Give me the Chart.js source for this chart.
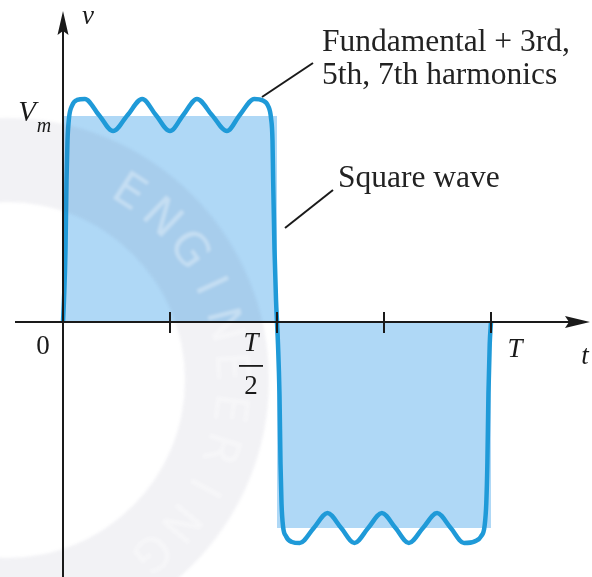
<!DOCTYPE html>
<html lang="en">
<head>
    <meta charset="UTF-8">
    <title>Square wave and its harmonic approximation</title>
    <script src="https://cdn.jsdelivr.net/npm/chart.js@4.4.0/dist/chart.umd.js"></script>
    <style>
        body {
            margin: 0;
            background: #ffffff;
        }
        #waveChart {
            display: block;
        }
    </style>
</head>
<body>
    <canvas id="waveChart" width="592" height="577"></canvas>

    <script>
        // Time in periods (T = 1), voltage in units of Vm
        const squareT = [0, 0, 0.5, 0.5, 1, 1];
        const squareV = [0, 1, 1, -1, -1, 0];

        // Fundamental + 3rd, 5th, 7th harmonics, read point by point
        const harmT = [
            0, 0.0023, 0.0058, 0.0082, 0.0105, 0.014, 0.021, 0.033, 0.051,
            0.084, 0.117, 0.151, 0.185, 0.217, 0.250, 0.281, 0.313, 0.348, 0.383, 0.413, 0.447,
            0.467, 0.479, 0.486, 0.4895, 0.491, 0.4942, 0.4977, 0.5,
            0.5023, 0.5058, 0.5082, 0.5105, 0.514, 0.521, 0.535, 0.553,
            0.586, 0.618, 0.650, 0.681, 0.713, 0.745, 0.777, 0.808, 0.841, 0.874, 0.906, 0.937,
            0.962, 0.977, 0.985, 0.989, 0.9915, 0.994, 0.997, 1
        ];
        const harmV = [
            0, 0.107, 0.35, 0.69, 0.88, 0.99, 1.05, 1.078, 1.083,
            1.005, 0.927, 1.005, 1.083, 1.005, 0.927, 1.005, 1.083, 1.005, 0.927, 1.005, 1.083,
            1.075, 1.05, 0.99, 0.88, 0.69, 0.35, 0.107, 0,
            -0.107, -0.35, -0.69, -0.88, -0.99, -1.04, -1.068, -1.073,
            -1.0, -0.927, -1.0, -1.073, -1.0, -0.927, -1.0, -1.073, -1.0, -0.927, -1.0, -1.073,
            -1.065, -1.04, -0.99, -0.88, -0.69, -0.35, -0.107, 0
        ];

        const tickT = [0.25, 0.5, 0.75, 1];

        const toPoints = (xs, ys) => xs.map((x, i) => ({ x: x, y: ys[i] }));

        const serif = '"Liberation Serif", "DejaVu Serif", serif';

        // faint circular stamp lying over the plot
        function drawStamp(ctx) {
            const cx = 7, cy = 380;
            ctx.save();
            ctx.filter = 'blur(1.5px)';
            ctx.beginPath();
            ctx.arc(cx, cy, 262, 0, Math.PI * 2);
            ctx.arc(cx, cy, 178, 0, Math.PI * 2, true);
            ctx.fillStyle = 'rgba(70, 70, 120, 0.07)';
            ctx.fill();

            const word = 'ENGINEERING';
            ctx.font = '46px "DejaVu Sans", sans-serif';
            ctx.textAlign = 'center';
            ctx.textBaseline = 'middle';
            ctx.fillStyle = 'rgba(255, 255, 255, 0.35)';
            for (let i = 0; i < word.length; i++) {
                const a = (-57 + i * 10.7) * Math.PI / 180;
                ctx.save();
                ctx.translate(cx + 222 * Math.cos(a), cy + 222 * Math.sin(a));
                ctx.rotate(a + Math.PI / 2);
                ctx.fillText(word[i], 0, 0);
                ctx.restore();
            }
            ctx.restore();
        }

        // Axes with arrowheads, tick marks and the hand-lettered labels
        const axesPlugin = {
            id: 'axesPlugin',
            afterDatasetsDraw(chart) {
                const ctx = chart.ctx;
                const xs = chart.scales.x;
                const ys = chart.scales.y;
                const x0 = xs.getPixelForValue(0);
                const y0 = ys.getPixelForValue(0);

                drawStamp(ctx);

                ctx.save();
                ctx.strokeStyle = '#1a1a1a';
                ctx.fillStyle = '#1a1a1a';
                ctx.lineWidth = 2;

                // horizontal axis
                ctx.beginPath();
                ctx.moveTo(15, y0);
                ctx.lineTo(572, y0);
                ctx.stroke();
                ctx.beginPath();
                ctx.moveTo(590, y0);
                ctx.lineTo(565, y0 - 6);
                ctx.lineTo(569, y0);
                ctx.lineTo(565, y0 + 6);
                ctx.closePath();
                ctx.fill();

                // vertical axis
                ctx.beginPath();
                ctx.moveTo(x0, 577);
                ctx.lineTo(x0, 30);
                ctx.stroke();
                ctx.beginPath();
                ctx.moveTo(x0, 11);
                ctx.lineTo(x0 - 5.5, 35);
                ctx.lineTo(x0, 31);
                ctx.lineTo(x0 + 5.5, 35);
                ctx.closePath();
                ctx.fill();

                // ticks
                tickT.forEach(t => {
                    const px = xs.getPixelForValue(t);
                    ctx.beginPath();
                    ctx.moveTo(px, y0 - 10);
                    ctx.lineTo(px, y0 + 11);
                    ctx.stroke();
                });

                // labels
                ctx.textAlign = 'center';
                ctx.textBaseline = 'middle';
                ctx.font = '27px ' + serif;
                ctx.fillText('0', x0 - 20, y0 + 25);

                const xHalf = xs.getPixelForValue(0.5);
                ctx.font = 'italic 27px ' + serif;
                ctx.fillText('T', xHalf - 26, y0 + 22);
                ctx.fillRect(xHalf - 38, y0 + 43, 24, 1.8);
                ctx.font = '27px ' + serif;
                ctx.fillText('2', xHalf - 26, y0 + 65);

                ctx.font = 'italic 27px ' + serif;
                ctx.fillText('T', xs.getPixelForValue(1) + 24, y0 + 28);
                ctx.fillText('t', 585, y0 + 35);
                ctx.fillText('v', x0 + 25, 17);

                const yVm = ys.getPixelForValue(1);
                ctx.font = 'italic 29px ' + serif;
                ctx.fillText('V', 27, yVm - 3);
                ctx.font = 'italic 20px ' + serif;
                ctx.fillText('m', 44, yVm + 11);

                // callouts
                ctx.lineWidth = 2;
                ctx.beginPath();
                ctx.moveTo(262, 97);
                ctx.lineTo(313, 63);
                ctx.stroke();
                ctx.beginPath();
                ctx.moveTo(285, 228);
                ctx.lineTo(333, 190);
                ctx.stroke();

                ctx.fillStyle = '#222222';
                ctx.textAlign = 'left';
                ctx.font = '31.5px ' + serif;
                ctx.fillText('Fundamental + 3rd,', 322, 43);
                ctx.fillText('5th, 7th harmonics', 322, 76);
                ctx.fillText('Square wave', 338, 179);
                ctx.restore();
            }
        };

        const chart = new Chart(document.getElementById('waveChart'), {
            type: 'scatter',
            data: {
                datasets: [
                    {
                        label: 'Fundamental + 3rd, 5th, 7th harmonics',
                        data: toPoints(harmT, harmV),
                        showLine: true,
                        borderColor: '#1f9ad8',
                        borderWidth: 4.5,
                        pointRadius: 0,
                        cubicInterpolationMode: 'monotone',
                        fill: false,
                        order: 0
                    },
                    {
                        label: 'Square wave',
                        data: toPoints(squareT, squareV),
                        showLine: true,
                        borderWidth: 0,
                        borderColor: 'rgba(0,0,0,0)',
                        backgroundColor: '#afd8f6',
                        pointRadius: 0,
                        tension: 0,
                        fill: 'origin',
                        order: 1
                    }
                ]
            },
            options: {
                responsive: false,
                animation: false,
                layout: { padding: 0 },
                plugins: {
                    legend: { display: false },
                    tooltip: { enabled: false }
                },
                scales: {
                    x: {
                        type: 'linear',
                        display: false,
                        min: -63 / 428,
                        max: (592 - 63) / 428
                    },
                    y: {
                        type: 'linear',
                        display: false,
                        min: -(577 - 322) / 206,
                        max: 322 / 206
                    }
                }
            },
            plugins: [axesPlugin]
        });
    </script>
</body>
</html>
